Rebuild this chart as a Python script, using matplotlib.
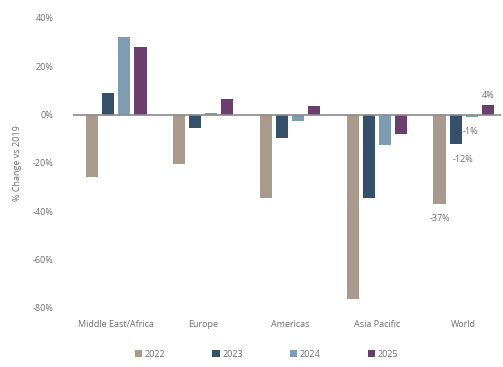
import matplotlib.pyplot as plt
import numpy as np

regions = ["Middle East/Africa", "Europe", "Americas", "Asia Pacific", "World"]
years = ["2022", "2023", "2024", "2025"]
v2022 = [-26, -20.5, -34.5, -76.5, -37]
v2023 = [9, -5.5, -9.5, -34.5, -12]
v2024 = [32, 0.5, -2.5, -12.5, -1]
v2025 = [28, 6.5, 3.5, -8, 4]
colors = ["#a89a8c", "#34506b", "#7f9db2", "#6a3f6f"]
world_labels = ["-37%", "-12%", "-1%", "4%"]

plt.rcParams['font.family'] = ['Open Sans', 'DejaVu Sans']
grey = "#6f6f6f"

fig = plt.figure(figsize=(5.03, 3.67), dpi=100)
ax = fig.add_axes([0.145, 0.161, 0.851, 0.79])

x = np.arange(len(regions))
step = 0.185
width = 0.14
series = [v2022, v2023, v2024, v2025]
for i, vals in enumerate(series):
    ax.bar(x + (i - 1.5) * step, vals, width, color=colors[i], label=years[i], zorder=2)

ax.axhline(0, color="#8a8a8a", lw=1.2, zorder=3)

# data labels for World
w = len(regions) - 1
ax.text(w - 1.5 * step, v2022[w] - 4.2, world_labels[0], ha="center", va="top", fontsize=6.5, color=grey)
ax.text(w - 0.5 * step - 0.04, v2023[w] - 4.8, world_labels[1], ha="left", va="top", fontsize=6.5, color=grey)
ax.text(w + 0.5 * step - 0.1, v2024[w] - 4.2, world_labels[2], ha="left", va="top", fontsize=6.5, color=grey)
ax.text(w + 1.5 * step, v2025[w] + 2, world_labels[3], ha="center", va="bottom", fontsize=6.5, color=grey)

ax.set_xlim(-0.5, 4.43)
ax.set_ylim(-80, 40)
ax.set_yticks(np.arange(-80, 41, 20))
ax.set_yticklabels([f"{t}%" for t in range(-80, 41, 20)])
ax.set_xticks(x)
ax.set_xticklabels(regions)
ax.tick_params(axis="both", length=0, labelsize=6.5, colors=grey)
ax.tick_params(axis="y", pad=14)
ax.tick_params(axis="x", pad=9)
for s in ax.spines.values():
    s.set_visible(False)
ax.set_ylabel("% Change vs 2019", fontsize=6.5, color=grey, labelpad=8)

fig.legend(loc="lower center", bbox_to_anchor=(0.53, 0.0), ncol=4, frameon=False,
           fontsize=6.5, labelcolor=grey, handlelength=0.8, handleheight=0.8,
           handletextpad=0.3, columnspacing=5.2)

fig.savefig("out.png", dpi=100)
